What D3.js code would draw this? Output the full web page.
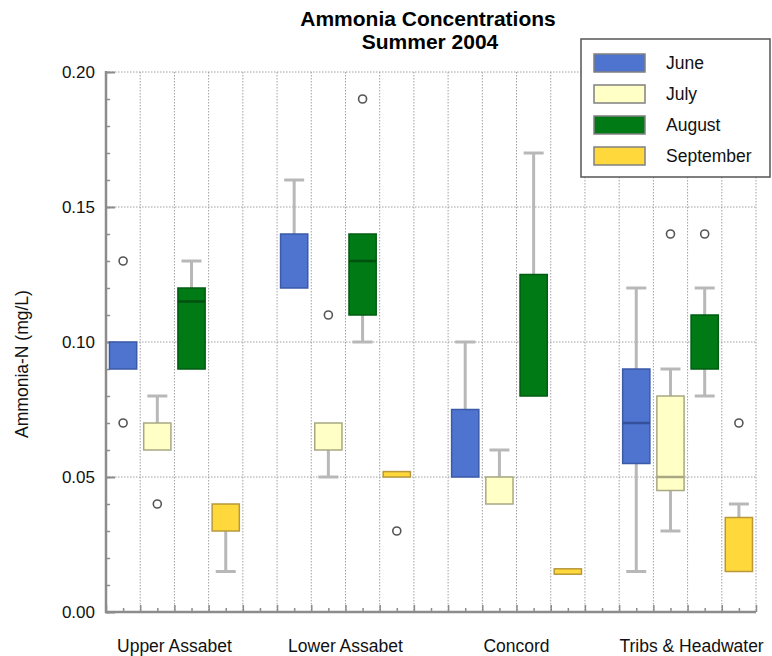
<!DOCTYPE html>
<html>
<head>
<meta charset="utf-8">
<script src="https://cdn.jsdelivr.net/npm/d3@7"></script>
<style>
html,body{margin:0;padding:0;background:#fff;}
svg{display:block;font-family:"Liberation Sans",Arial,Helvetica,sans-serif;}
</style>
</head>
<body>
<svg id="chart" width="772" height="656"></svg>
<script>
// ---- data ----
const categories = ["Upper Assabet", "Lower Assabet", "Concord", "Tribs & Headwater"];
const months = ["June", "July", "August", "September"];
const monthColors = ["#4f74d0", "#ffffc6", "#007a14", "#ffd83c"];
const monthStrokes = ["#3b5aa8", "#a8a884", "#005c10", "#b8983a"];
const monthMedian = ["#34509a", "#a8a884", "#005010", "#b8983a"];
const yTicks = [0.00, 0.05, 0.10, 0.15, 0.20];
// rows = months, columns = categories
const q1 = [
  [0.090, 0.120, 0.050, 0.055],
  [0.060, 0.060, 0.040, 0.045],
  [0.090, 0.110, 0.080, 0.090],
  [0.030, 0.050, 0.014, 0.015]
];
const median = [
  [0.090, 0.120, 0.050, 0.070],
  [0.060, 0.060, 0.040, 0.050],
  [0.115, 0.130, 0.080, 0.090],
  [0.030, 0.050, 0.014, 0.015]
];
const q3 = [
  [0.100, 0.140, 0.075, 0.090],
  [0.070, 0.070, 0.050, 0.080],
  [0.120, 0.140, 0.125, 0.110],
  [0.040, 0.052, 0.016, 0.035]
];
const whiskerLow = [
  [0.090, 0.120, 0.050, 0.015],
  [0.060, 0.050, 0.040, 0.030],
  [0.090, 0.100, 0.080, 0.080],
  [0.015, 0.050, 0.014, 0.015]
];
const whiskerHigh = [
  [0.100, 0.160, 0.100, 0.120],
  [0.080, 0.070, 0.060, 0.090],
  [0.130, 0.140, 0.170, 0.120],
  [0.040, 0.052, 0.016, 0.040]
];
const outliers = [
  [[0.13, 0.07], [], [], []],
  [[0.04], [0.11], [], [0.14]],
  [[], [0.19], [], [0.14]],
  [[], [0.03], [], [0.07]]
];

// ---- layout ----
const svg = d3.select("#chart");
const pLeft = 106, pRight = 756, pTop = 72, pBottom = 612;
const nSlots = categories.length * (months.length + 1) - 1;
const x = d3.scaleLinear().domain([0, nSlots]).range([pLeft, pRight]);
const y = d3.scaleLinear().domain([0, 0.2]).range([pBottom, pTop]);
const slotW = x(1) - x(0);
const boxPad = 3.5;
const slotOf = (ci, mi) => ci * (months.length + 1) + mi;

// grid
const grid = svg.append("g").attr("stroke", "#a0a0a0").attr("stroke-width", 1).attr("stroke-dasharray", "1.5,1.5");
yTicks.filter(v => v > 0).forEach(v => {
  grid.append("line").attr("x1", pLeft).attr("x2", pRight).attr("y1", y(v)).attr("y2", y(v));
});
d3.range(1, nSlots + 1).forEach(i => {
  grid.append("line").attr("x1", x(i)).attr("x2", x(i)).attr("y1", pTop).attr("y2", pBottom);
});

// axes
const axisColor = "#8c8c8c";
const yAxis = svg.append("g").attr("transform", `translate(${pLeft},0)`);
yAxis.call(d3.axisRight(y).tickValues(d3.range(0, 0.2001, 0.01)).tickSize(4).tickFormat(""))
  .call(g => g.select(".domain").remove())
  .call(g => g.selectAll("line").attr("stroke", axisColor).attr("stroke-width", 1.5));
yAxis.append("g").call(d3.axisRight(y).tickValues(yTicks).tickSize(9).tickFormat(""))
  .call(g => g.select(".domain").remove())
  .call(g => g.selectAll("line").attr("stroke", axisColor).attr("stroke-width", 2));
yAxis.append("line").attr("x1", 0).attr("x2", 0).attr("y1", pTop - 1).attr("y2", pBottom + 1)
  .attr("stroke", axisColor).attr("stroke-width", 2.5);
yAxis.selectAll("text.lbl").data(yTicks).join("text").attr("class", "lbl")
  .attr("x", -11).attr("y", d => y(d)).attr("dy", "0.36em")
  .attr("text-anchor", "end").attr("font-size", 17).attr("fill", "#111")
  .text(d => d3.format(".2f")(d));

const xAxis = svg.append("g").attr("transform", `translate(0,${pBottom})`);
xAxis.call(d3.axisTop(x).tickValues(d3.range(0, nSlots + 1)).tickSize(7).tickFormat(""))
  .call(g => g.select(".domain").remove())
  .call(g => g.selectAll("line").attr("stroke", axisColor).attr("stroke-width", 1.5));
xAxis.append("g").call(d3.axisTop(x).tickValues(d3.range(0.5, nSlots, 1)).tickSize(4).tickFormat(""))
  .call(g => g.select(".domain").remove())
  .call(g => g.selectAll("line").attr("stroke", axisColor).attr("stroke-width", 1.5));
xAxis.append("line").attr("x1", pLeft - 1).attr("x2", pRight).attr("y1", 0).attr("y2", 0)
  .attr("stroke", axisColor).attr("stroke-width", 2.5);

svg.selectAll("text.cat").data(categories).join("text").attr("class", "cat")
  .attr("x", (d, i) => (x(slotOf(i, 0)) + x(slotOf(i, months.length - 1) + 1)) / 2 + (i === 3 ? 4 : 0))
  .attr("y", 652).attr("text-anchor", "middle").attr("font-size", 17.5).attr("fill", "#111")
  .text(d => d);

// y label
svg.append("text").attr("transform", `translate(28,364) rotate(-90)`)
  .attr("text-anchor", "middle").attr("font-size", 17.5).attr("fill", "#111")
  .text("Ammonia-N (mg/L)");

// title
svg.append("text").attr("x", 428).attr("y", 26).attr("text-anchor", "middle")
  .attr("font-size", 21).attr("font-weight", "bold").attr("fill", "#000").text("Ammonia Concentrations");
svg.append("text").attr("x", 430).attr("y", 49).attr("text-anchor", "middle")
  .attr("font-size", 21).attr("font-weight", "bold").attr("fill", "#000").text("Summer 2004");

// boxes
const whiskColor = "#b8b8b8";
const capW = 20;
months.forEach((m, mi) => {
  categories.forEach((c, ci) => {
    const s = slotOf(ci, mi);
    const cx = x(s + 0.5);
    const g = svg.append("g");
    const wl = whiskerLow[mi][ci], wh = whiskerHigh[mi][ci];
    const b1 = q1[mi][ci], b3 = q3[mi][ci], md = median[mi][ci];
    if (wh > b3) {
      g.append("line").attr("x1", cx).attr("x2", cx).attr("y1", y(b3)).attr("y2", y(wh))
        .attr("stroke", whiskColor).attr("stroke-width", 3);
      g.append("line").attr("x1", cx - capW / 2).attr("x2", cx + capW / 2).attr("y1", y(wh)).attr("y2", y(wh))
        .attr("stroke", whiskColor).attr("stroke-width", 3);
    }
    if (wl < b1) {
      g.append("line").attr("x1", cx).attr("x2", cx).attr("y1", y(b1)).attr("y2", y(wl))
        .attr("stroke", whiskColor).attr("stroke-width", 3);
      g.append("line").attr("x1", cx - capW / 2).attr("x2", cx + capW / 2).attr("y1", y(wl)).attr("y2", y(wl))
        .attr("stroke", whiskColor).attr("stroke-width", 3);
    }
    g.append("rect").attr("x", x(s) + boxPad).attr("width", slotW - 2 * boxPad)
      .attr("y", y(b3)).attr("height", y(b1) - y(b3))
      .attr("fill", monthColors[mi]).attr("stroke", monthStrokes[mi]).attr("stroke-width", 1.5);
    if (md > b1 && md < b3) {
      g.append("line").attr("x1", x(s) + boxPad).attr("x2", x(s + 1) - boxPad)
        .attr("y1", y(md)).attr("y2", y(md)).attr("stroke", monthMedian[mi]).attr("stroke-width", 2.5);
    }
    outliers[mi][ci].forEach(o => {
      g.append("circle").attr("cx", cx).attr("cy", y(o)).attr("r", 4)
        .attr("fill", "none").attr("stroke", "#555").attr("stroke-width", 1.6);
    });
  });
});

// legend
const lg = svg.append("g");
lg.append("rect").attr("x", 581).attr("y", 39).attr("width", 189).attr("height", 138)
  .attr("fill", "#fff").attr("stroke", "#555").attr("stroke-width", 1.5);
const legendY = d3.scalePoint().domain(months).range([63, 156]);
months.forEach((m, mi) => {
  lg.append("rect").attr("x", 594).attr("y", legendY(m) - 9).attr("width", 51).attr("height", 18)
    .attr("fill", monthColors[mi]).attr("stroke", "#808080").attr("stroke-width", 1.5);
  lg.append("text").attr("x", 666).attr("y", legendY(m)).attr("dy", "0.36em")
    .attr("font-size", 17.5).attr("fill", "#111").text(m);
});
</script>
</body>
</html>
